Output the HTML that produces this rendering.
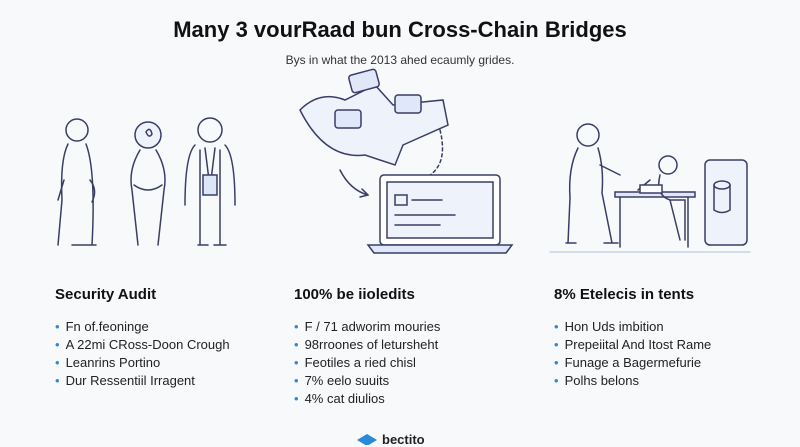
<!DOCTYPE html>
<html><head><meta charset="utf-8"><style>
body{margin:0;width:800px;height:445px;background:#f7f9fb;font-family:"Liberation Sans",sans-serif;color:#111;position:relative;overflow:hidden}
.t{position:absolute;left:0;width:800px;text-align:center}
h1{position:absolute;top:17px;left:0;width:800px;text-align:center;margin:0;font-size:22px;font-weight:bold;color:#111}
.sub{top:53px;font-size:12px;color:#333}
.col{position:absolute;top:286px}
.col h2{margin:0 0 15px;font-size:15px;font-weight:bold;color:#111}
.col ul{margin:0;padding:0;list-style:none}
.col li{font-size:13px;line-height:18px;color:#222;white-space:nowrap}
.col li:before{content:"•";color:#2b8ad8;margin-right:6px}
svg{position:absolute;left:0;top:0}
</style></head><body>
<h1>Many 3 vourRaad bun Cross-Chain Bridges</h1>
<div class="t sub">Bys in what the 2013 ahed ecaumly grides.</div>
<svg width="800" height="445" fill="none" stroke="#3a3e66" stroke-width="1.5" stroke-linecap="round">
<circle cx="77" cy="130" r="11"/><path d="M68 144 Q60 160 62 200 L58 245 M86 144 Q96 170 92 245 M72 245 h24"/>
<path d="M64 180 l-6 20 M90 180 q8 10 2 22"/>
<circle cx="148" cy="135" r="13" fill="#eef2fb"/><path d="M140 150 q-12 20 -8 40 l6 55 M156 150 q12 20 8 40 l-6 55 M134 185 q14 10 28 0"/>
<path d="M146 132 q4 -6 6 2 q-3 5 -6 -2"/>
<circle cx="210" cy="130" r="12"/><path d="M195 145 q-10 10 -10 60 M225 145 q10 10 10 60 M200 150 l0 95 M220 150 l0 95 M205 148 l5 40 l5 -40 M198 245 h10 M214 245 h12"/>
<path d="M203 175 h14 v20 h-14z" fill="#dde6f7"/>
<path d="M300 110 q20 -20 45 -10 l30 -15 l18 20 l50 -5 l5 25 l-45 20 l-8 20 l-30 -10 q-40 5 -65 -45z" fill="#eef2fb"/>
<rect x="350" y="72" width="28" height="18" rx="3" fill="#dfe7f8" transform="rotate(-15 364 81)"/>
<rect x="395" y="95" width="26" height="18" rx="3" fill="#dfe7f8"/>
<rect x="335" y="110" width="26" height="18" rx="3" fill="#dfe7f8"/>
<path d="M440 130 q10 40 -20 50" stroke-dasharray="3 3"/>
<path d="M340 170 q10 20 28 25 m-6 -6 l6 6 l-8 2"/>
<rect x="380" y="175" width="120" height="70" rx="4" fill="#fff"/>
<rect x="387" y="182" width="106" height="56" fill="#eef2fb"/>
<path d="M368 245 h144 l-6 8 h-132z" fill="#dfe7f8"/>
<path d="M395 195 h12 v10 h-12z M412 200 h30 M395 215 h60 M395 225 h45"/>
<circle cx="588" cy="135" r="11"/><path d="M578 148 q-10 20 -8 50 l-2 45 M598 148 q6 20 4 45 l10 50 M600 165 l20 10 M566 243 h10 M604 243 h14"/>
<rect x="615" y="192" width="80" height="5" fill="#dfe7f8"/><path d="M620 197 v50 M688 197 v50"/>
<circle cx="668" cy="165" r="9"/><path d="M660 175 q-5 20 10 25 l15 0 l0 40 M670 200 l10 40 M650 180 l-12 10"/>
<rect x="640" y="185" width="22" height="8" fill="#fff"/>
<rect x="705" y="160" width="42" height="85" rx="5" fill="#eef2fb"/>
<ellipse cx="722" cy="185" rx="8" ry="4"/><path d="M714 185 v25 q8 5 16 0 v-25"/>
<path d="M550 252 h200" stroke="#c8d2e8"/>
<path d="M357 440 l10 -6 l10 6 l-10 6z" fill="#2b8ad8" stroke="none"/>
</svg>
<div class="col" style="left:55px"><h2>Security Audit</h2><ul>
<li>Fn of.feoninge</li><li>A 22mi CRoss-Doon Crough</li><li>Leanrins Portino</li><li>Dur Ressentiil Irragent</li></ul></div>
<div class="col" style="left:294px"><h2>100% be iioledits</h2><ul>
<li>F / 71 adworim mouries</li><li>98rroones of letursheht</li><li>Feotiles a ried chisl</li><li>7% eelo suuits</li><li>4% cat diulios</li></ul></div>
<div class="col" style="left:554px"><h2>8% Etelecis in tents</h2><ul>
<li>Hon Uds imbition</li><li>Prepeiital And Itost Rame</li><li>Funage a Bagermefurie</li><li>Polhs belons</li></ul></div>
<div style="position:absolute;left:382px;top:432px;font-size:13px;font-weight:bold;color:#222">bectito</div>
</body></html>
